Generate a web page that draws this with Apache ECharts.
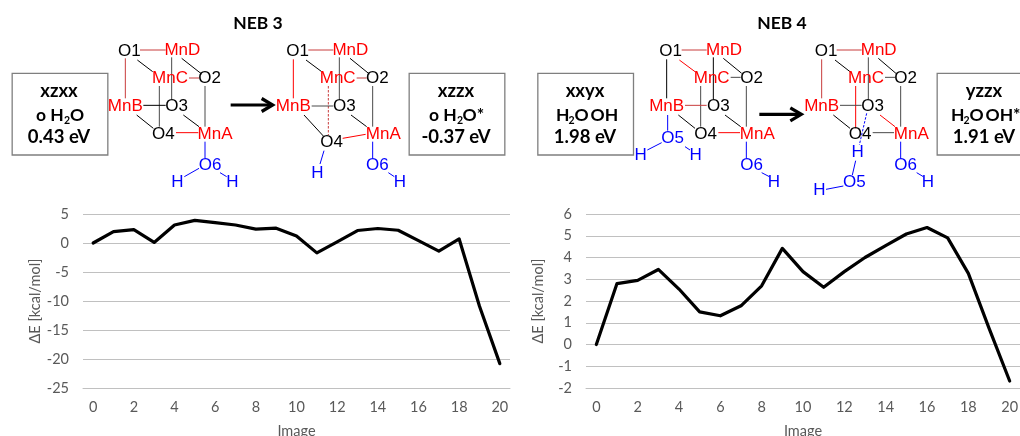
<!DOCTYPE html>
<html><head><meta charset="utf-8">
<style>html,body{margin:0;padding:0;background:#fff;overflow:hidden}#c{width:1020px;height:436px}</style>
<script src="https://cdn.jsdelivr.net/npm/echarts@6/dist/echarts.min.js"></script>
</head><body><div id="c"></div>
<script>
// Chart data
const images = ['0','1','2','3','4','5','6','7','8','9','10','11','12','13','14','15','16','17','18','19','20'];
const neb3 = [0,1.95,2.3,0.1,3.1,3.9,3.5,3.1,2.4,2.55,1.2,-1.7,0.2,2.15,2.5,2.2,0.4,-1.4,0.7,-10.9,-20.8];
const neb4 = [0,2.8,2.95,3.45,2.55,1.5,1.32,1.78,2.7,4.42,3.35,2.63,3.35,4.0,4.55,5.08,5.38,4.9,3.27,0.75,-1.68];
const yTitle = 'ΔE [kcal/mol]';
const xTitle = 'Image';

// Diagram layout (in 3x-zoomed px; ox = panel x offset)
const R='#ff0000',K='#000',B='#0000ff',r2='#c83c3c',g='#4a4a4a';
const atoms = [
 {ox:0,t:[['O1',388,155,K],['MnD',547,152,R],['MnC',510,236,R],['O2',629,236,K],['MnB',376,320,R],['O3',530,320,K],['O4',490,402,K],['MnA',645,402,R],['O6',630,497,B],['H',532,546,B],['H',697,546,B]],
  l:[[420,150,497,150,r2],[376,175,376,295,r2],[412,180,458,215,K],[545,175,605,222,K],[515,172,515,297,g],[478,258,478,380,g],[567,234,597,234,r2],[615,258,615,380,g],[430,316,497,316,K],[410,345,460,385,K],[550,345,597,380,K],[528,398,595,398,R],[615,425,615,475,B],[597,505,553,530,B],[660,518,680,530,B]]},
 {ox:0,t:[['O1',893,155,K],['MnD',1051,152,R],['MnC',1013,236,R],['O2',1132,236,K],['MnB',880,320,R],['O3',1033,320,K],['O4',995,428,K],['MnA',1150,402,R],['H',952,520,B],['O6',1132,497,B],['H',1200,546,B]],
  l:[[925,150,1000,150,r2],[880,178,880,295,R],[918,180,965,215,K],[1050,175,1108,222,K],[1018,172,1018,297,g],[985,258,985,405,r2,'d'],[1070,234,1100,234,r2],[1118,258,1118,380,g],[935,318,1000,318,g],[912,345,970,408,K],[1053,345,1100,380,K],[1028,415,1097,403,R],[1118,425,1118,475,B],[972,452,960,492,B],[1165,518,1183,530,B]]},
 {ox:510,t:[['O1',482,155,K],['MnD',642,152,R],['MnC',605,236,R],['O2',725,236,K],['MnB',470,320,R],['O3',625,320,K],['O4',587,402,K],['MnA',742,402,R],['O5',488,415,B],['H',392,465,B],['H',557,465,B],['O6',725,497,B],['H',792,546,B]],
  l:[[515,150,590,150,r2],[470,178,470,295,K],[508,180,555,215,R],[640,175,695,220,K],[610,172,610,297,K],[572,258,572,380,g],[662,232,692,232,g],[709,258,709,380,g],[525,316,590,316,r2],[505,345,555,385,K],[645,345,692,380,K],[625,398,690,398,R],[473,345,473,392,B],[455,428,412,450,B],[525,440,540,450,B],[709,425,709,475,B],[755,518,778,530,B]]},
 {ox:510,t:[['O1',948,155,K],['MnD',1106,152,R],['MnC',1068,236,R],['O2',1187,236,K],['MnB',935,320,R],['O3',1088,320,K],['O4',1050,402,K],['MnA',1204,402,R],['H',1043,458,B],['O5',1033,548,B],['H',928,572,B],['O6',1187,497,B],['H',1254,546,B]],
  l:[[980,150,1055,150,r2],[935,178,935,295,r2],[975,180,1020,215,K],[1105,175,1160,222,K],[1075,172,1075,297,g],[1037,258,1037,385,R],[1125,232,1155,232,g],[1172,258,1172,380,g],[990,316,1055,316,g],[970,345,1020,385,K],[1110,345,1155,380,R],[1088,398,1152,398,g],[1070,340,1048,435,B,'d'],[1037,482,1027,525,B],[1000,558,948,568,B],[1172,425,1172,475,B],[1220,518,1240,530,B]]}
];
const boxes = [[35,220,322,465,0],[1226,220,1513,465,0],[82,220,369,465,510],[1280,220,1600,465,510]];
// [text, x px, y px]
const boxLines = [['xzxx',59,91],['0.43 eV',59,137.5],['xzzx',456,91],['-0.37 eV',456,137.5],['xxyx',585,91],['1.98 eV',585,137.5],['yzzx',984,91],['1.91 eV',984,137.5]];
const formulaParts = [['o H',36,115],['O',70,115],['o H',429,115],['O*',462.5,115],['H',556,115],['O',574.5,115],['OH',590.5,115],['H',951,115],['O',969.5,115],['OH*',985.5,115]];
const subs = [[64,121],[457,121],[568.5,121],[963.5,121]];
const arrows = [[692,315,0],[748,343,510]];
const titles = [['NEB 3',258,23],['NEB 4',782,23]];

const graphic = [];
const base = {silent:true};
boxes.forEach(b=>graphic.push({...base,type:'rect',shape:{x:b[0]/3+b[4]+.5,y:b[1]/3,width:(b[2]-b[0])/3,height:(b[3]-b[1])/3},style:{fill:'#fff',stroke:'#7f7f7f',lineWidth:1.3}}));
atoms.forEach(d=>{
  d.l.forEach(s=>graphic.push({...base,type:'line',shape:{x1:s[0]/3+d.ox,y1:s[1]/3,x2:s[2]/3+d.ox,y2:s[3]/3},style:{stroke:s[4],lineWidth:1,lineDash:s[5]?[2.5,1.5]:null}}));
  d.t.forEach(a=>graphic.push({...base,type:'text',x:a[1]/3+d.ox,y:a[2]/3,style:{text:a[0],fill:a[3],font:'17px "Liberation Sans", Arial, sans-serif',align:'center',verticalAlign:'middle'}}));
});
arrows.forEach(a=>{
  const x=a[0]/3+a[2],y=a[1]/3;
  graphic.push({...base,type:'line',shape:{x1:x,y1:y,x2:x+40,y2:y},style:{stroke:'#000',lineWidth:3.2}});
  graphic.push({...base,type:'polyline',shape:{points:[[x+31,y-6.5],[x+42,y],[x+31,y+6.5]]},style:{fill:'none',stroke:'#000',lineWidth:3.2}});
});
boxLines.forEach(t=>graphic.push({...base,type:'text',x:t[1],y:t[2],style:{text:t[0],fill:'#000',font:'bold 18.5px Lato, sans-serif',align:'center',verticalAlign:'middle'}}));
formulaParts.forEach(t=>graphic.push({...base,type:'text',x:t[1],y:t[2],style:{text:t[0],fill:'#000',font:'bold 17.5px Lato, sans-serif',align:'left',verticalAlign:'middle'}}));
subs.forEach(s=>graphic.push({...base,type:'text',x:s[0],y:s[1],style:{text:'2',fill:'#000',font:'bold 10.5px Lato, sans-serif',align:'left',verticalAlign:'middle'}}));
titles.forEach(t=>graphic.push({...base,type:'text',x:t[1],y:t[2],style:{text:t[0],fill:'#000',font:'bold 17.5px Lato, sans-serif',align:'center',verticalAlign:'middle'}}));

const lab = {color:'#595959',fontFamily:'Lato, sans-serif',fontSize:14.5};
const gridLine = {color:'#c0c0c0',width:1};
function xAx(i){return {gridIndex:i,type:'category',data:images,boundaryGap:true,name:xTitle,nameLocation:'middle',nameGap:36,nameTextStyle:lab,
  axisLine:{onZero:false,lineStyle:gridLine},axisTick:{show:false},axisLabel:{...lab,interval:1,margin:12}};}
function yAx(i,min,max,step){return {gridIndex:i,type:'value',min,max,interval:step,name:yTitle,nameLocation:'middle',nameGap:40,nameRotate:90,nameTextStyle:lab,
  axisLine:{show:false},axisTick:{show:false},axisLabel:{...lab,margin:14},splitLine:{lineStyle:gridLine}};}
function ser(i,data){return {type:'line',xAxisIndex:i,yAxisIndex:i,data,showSymbol:false,symbol:'none',smooth:false,silent:true,lineStyle:{color:'#000',width:3.2,cap:'round',join:'round'},z:5};}

const chart = echarts.init(document.getElementById('c'),null,{renderer:'canvas'});
chart.setOption({
  animation:false,backgroundColor:'#fff',
  grid:[{left:83,width:427,top:214,height:174,outerBoundsMode:'none'},{left:586,width:434,top:214,height:174,outerBoundsMode:'none'}],
  xAxis:[xAx(0),xAx(1)],
  yAxis:[yAx(0,-25,5,5),yAx(1,-2,6,1)],
  series:[ser(0,neb3),ser(1,neb4)],
  graphic:{elements:graphic}
});
</script></body></html>
